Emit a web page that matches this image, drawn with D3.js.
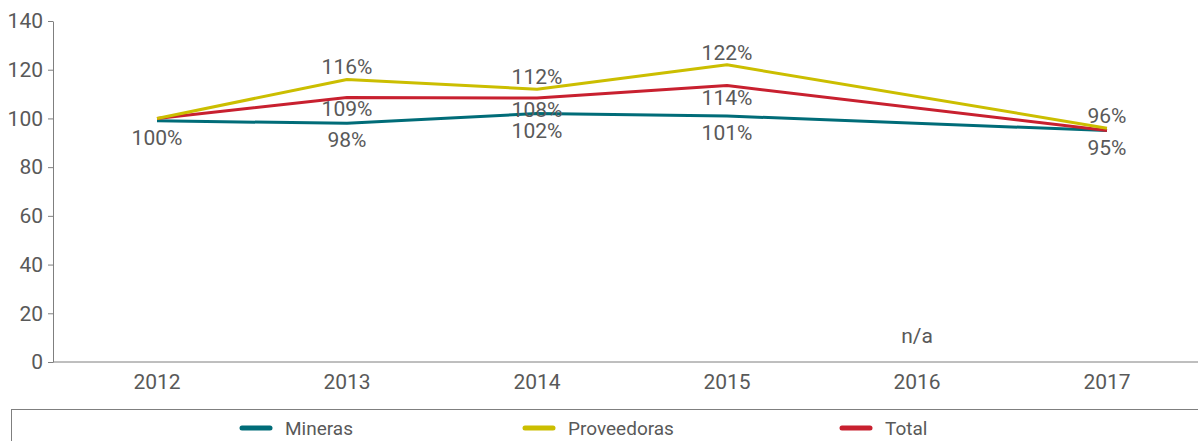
<!DOCTYPE html>
<html>
<head>
<meta charset="utf-8">
<script src="https://cdn.jsdelivr.net/npm/d3@7"></script>
<style>
  body { margin: 0; background: #fff; }
  svg text { font-family: Roboto, "Liberation Sans", sans-serif; fill: #595959; }
  .axis path, .axis line { stroke: #7f7f7f; }
</style>
</head>
<body>
<div class="chart"></div>
<script>
const years = ['2012', '2013', '2014', '2015', '2016', '2017'];
const yTicks = [0, 20, 40, 60, 80, 100, 120, 140];

// 2016 has no data (n/a)
const mineras = [99, 98, 102, 101, null, 95];
const proveedoras = [100, 116, 112, 122, null, 96];
const total = [100, 108.6, 108.4, 113.5, null, 95];

// data labels as printed, "" = no label
const minerasLabels = ['100%', '98%', '102%', '101%', '', '95%'];
const proveedorasLabels = ['', '116%', '112%', '122%', '', '96%'];
const totalLabels = ['', '109%', '108%', '114%', '', ''];

const seriesNames = ['Mineras', 'Proveedoras', 'Total'];

const width = 1198;
const height = 441;

const colors = ['#006c78', '#cbbe00', '#c8202f'];

let svg = d3.select('.chart').append('svg')
    .attr('width', width)
    .attr('height', height);

let x = d3.scaleBand()
    .domain(years)
    .range([62, 1202]);

let y = d3.scaleLinear()
    .domain([0, 140])
    .range([362, 21]);

const cx = d => x(d) + x.bandwidth() / 2;

// y axis
let yAxis = svg.append('g')
    .classed('axis', true)
    .attr('transform', 'translate(53,0)')
    .call(d3.axisLeft(y).tickValues(yTicks).tickSize(5).tickSizeOuter(0).tickPadding(5));
yAxis.selectAll('text').style('font-size', '21px');

// x axis
let xAxis = svg.append('g')
    .classed('axis', true)
    .attr('transform', 'translate(0,362)')
    .call(d3.axisBottom(x).tickSize(0).tickPadding(12));
xAxis.select('.domain').remove();
xAxis.selectAll('text').style('font-size', '21px');
svg.append('line')
    .attr('x1', 53).attr('x2', width)
    .attr('y1', y(0)).attr('y2', y(0))
    .attr('stroke', '#7f7f7f');

// offset of the label baseline from its point
const series = [
    {name: seriesNames[0], values: mineras, labels: minerasLabels, offset: 24},
    {name: seriesNames[1], values: proveedoras, labels: proveedorasLabels, offset: -5},
    {name: seriesNames[2], values: total, labels: totalLabels, offset: 19}
];

let line = d3.line()
    .x(d => cx(d.year))
    .y(d => y(d.value));

// draw lines, skipping missing years (joined straight across)
[series[0], series[2], series[1]].forEach(s => {
    const pts = years.map((yr, i) => ({year: yr, value: s.values[i]}))
        .filter(d => d.value != null);
    svg.append('path')
        .datum(pts)
        .attr('d', line)
        .attr('fill', 'none')
        .attr('stroke', colors[seriesNames.indexOf(s.name)])
        .attr('stroke-width', 3)
        .attr('stroke-linejoin', 'round');
});

// data labels
series.forEach(s => {
    svg.append('g')
        .selectAll('text')
        .data(years.map((yr, i) => ({year: yr, value: s.values[i], label: s.labels[i]}))
            .filter(d => d.label !== ''))
        .join('text')
        .attr('x', d => cx(d.year))
        .attr('y', d => y(d.value) + s.offset)
        .attr('text-anchor', 'middle')
        .style('font-size', '21px')
        .text(d => d.label);
});

svg.append('text')
    .attr('x', cx('2016'))
    .attr('y', y(0) - 19)
    .attr('text-anchor', 'middle')
    .style('font-size', '21px')
    .text('n/a');

// legend
svg.append('rect')
    .attr('x', 11.5).attr('y', 409.5)
    .attr('width', width).attr('height', 60)
    .attr('fill', 'none')
    .attr('stroke', '#7f7f7f');

const legendX = [240, 523, 840];
let items = svg.append('g')
    .selectAll('g')
    .data(seriesNames)
    .join('g')
    .attr('transform', (_, i) => `translate(${legendX[i]}, 428)`);
items.append('line')
    .attr('x1', 2).attr('x2', 30)
    .attr('stroke', (_, i) => colors[i])
    .attr('stroke-width', 5)
    .attr('stroke-linecap', 'round');
items.append('text')
    .attr('x', 45)
    .attr('dy', '0.35em')
    .style('font-size', '19px')
    .text(d => d);
</script>
</body>
</html>
